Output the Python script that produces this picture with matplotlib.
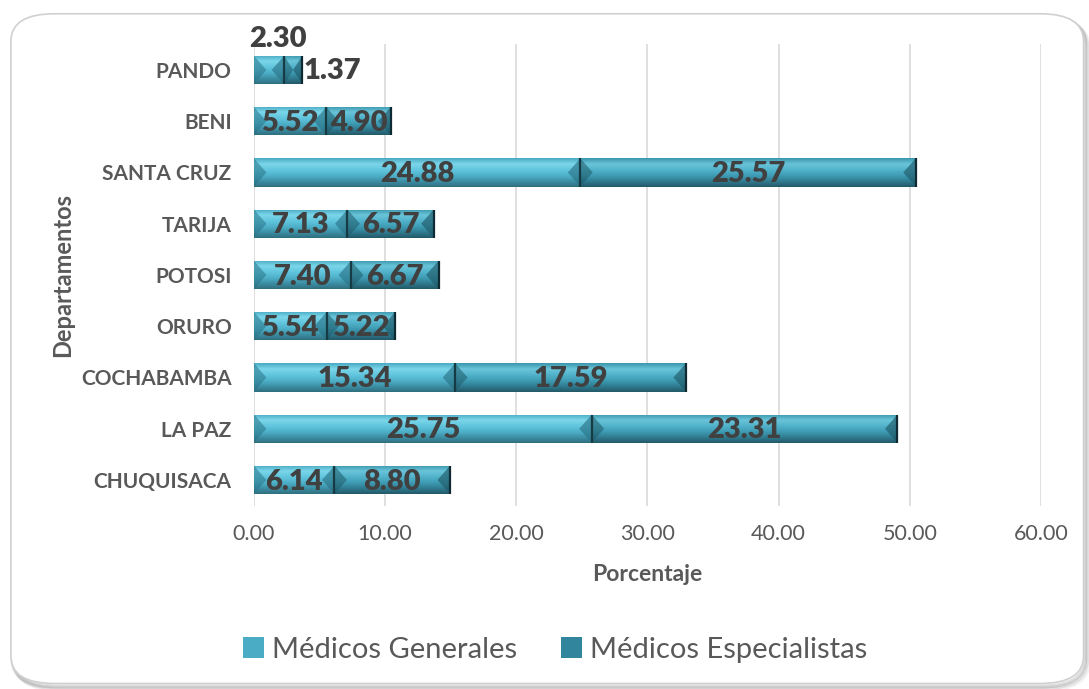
import matplotlib
matplotlib.use("Agg")
import matplotlib.pyplot as plt
import numpy as np
from matplotlib.patches import FancyBboxPatch, Polygon
from matplotlib.colors import LinearSegmentedColormap

# Data
departamentos = ["CHUQUISACA", "LA PAZ", "COCHABAMBA", "ORURO", "POTOSI",
                 "TARIJA", "SANTA CRUZ", "BENI", "PANDO"]
medicos_generales = [6.14, 25.75, 15.34, 5.54, 7.40, 7.13, 24.88, 5.52, 2.30]
medicos_especialistas = [8.80, 23.31, 17.59, 5.22, 6.67, 6.57, 25.57, 4.90, 1.37]
series_names = ["Médicos Generales", "Médicos Especialistas"]
xticks = [0, 10, 20, 30, 40, 50, 60]

FONT = ["Lato", "DejaVu Sans"]
plt.rcParams["font.family"] = FONT

fig = plt.figure(figsize=(10.89, 6.89), dpi=100)

# Rounded outer frame with soft shadow
for i, a in enumerate([0.05, 0.08, 0.12]):
    off = (3 - i) * 0.0015
    fig.patches.append(FancyBboxPatch((0.010 + off, 0.006 - off * 1.5), 0.985, 0.972,
                                      boxstyle="round,pad=0,rounding_size=0.04",
                                      transform=fig.transFigure, facecolor="none",
                                      edgecolor=(0, 0, 0, a), linewidth=3, zorder=-3))
fig.patches.append(FancyBboxPatch((0.010, 0.008), 0.985, 0.972,
                                  boxstyle="round,pad=0,rounding_size=0.04",
                                  transform=fig.transFigure, facecolor="white",
                                  edgecolor="#d0d0d0", linewidth=1.2, zorder=-2))

ax = fig.add_axes([0.2332, 0.2662, 0.7227, 0.6694])
ax.set_facecolor("none")

y = np.arange(len(departamentos))
bh = 0.55

cmap_gen = LinearSegmentedColormap.from_list(
    "gen", ["#2f6f7f", "#3d90a6", "#4fb2ca", "#62c6de", "#7bd6ea", "#4aaac3"])
cmap_esp = LinearSegmentedColormap.from_list(
    "esp", ["#245a68", "#2f7d92", "#3f9db5", "#52b3cb", "#6ac4da", "#3b97ad"])

bars_g = ax.barh(y, medicos_generales, height=bh, color="#4bacc6",
                 edgecolor="none", zorder=3, label=series_names[0])
bars_e = ax.barh(y, medicos_especialistas, left=medicos_generales, height=bh,
                 color="#31859c", edgecolor="none", zorder=3, label=series_names[1])

grad = np.linspace(0, 1, 64).reshape(-1, 1)


def shade(bars, cmap, end_dark, tip_dark):
    for b in bars:
        x0, y0 = b.get_x(), b.get_y()
        w, h = b.get_width(), b.get_height()
        x1, y1 = x0 + w, y0 + h
        im = ax.imshow(grad, cmap=cmap, aspect="auto", origin="lower",
                       extent=(x0, x1, y0, y1), zorder=3.1, interpolation="bilinear")
        im.set_clip_path(b)
        bev = min(0.95, w / 2)
        yc = y0 + h / 2
        ax.add_patch(Polygon([(x0, y0), (x0, y1), (x0 + bev, yc)], closed=True,
                             facecolor=end_dark, alpha=0.55, edgecolor="none", zorder=3.2))
        ax.add_patch(Polygon([(x1, y0), (x1, y1), (x1 - bev, yc)], closed=True,
                             facecolor=end_dark, alpha=0.65, edgecolor="none", zorder=3.2))
        ax.plot([x1, x1], [y0, y1], color=tip_dark, lw=1.6, zorder=3.3,
                solid_capstyle="butt")


shade(bars_g, cmap_gen, "#2a7487", "#163b45")
shade(bars_e, cmap_esp, "#1f5a69", "#0f2a32")

# Value labels
lab_kw = dict(fontsize=21, fontweight="heavy", color="#404040", zorder=5,
              family=FONT)
for i, (g, e) in enumerate(zip(medicos_generales, medicos_especialistas)):
    if departamentos[i] == "PANDO":
        ax.text(g / 2 + 0.7, i + 0.6, f"{g:.2f}", ha="center", va="center", **lab_kw)
        ax.text(g + e + 0.1, i - 0.02, f"{e:.2f}", ha="left", va="center", **lab_kw)
    else:
        ax.text(g / 2, i - 0.03, f"{g:.2f}", ha="center", va="center", **lab_kw)
        ax.text(g + e / 2, i - 0.03, f"{e:.2f}", ha="center", va="center", **lab_kw)

ax.set_xlim(0, 60)
ax.set_ylim(-0.5, len(departamentos) - 0.5)
ax.set_xticks(xticks)
ax.set_xticklabels([f"{v:.2f}" for v in xticks], fontsize=15.5, color="#595959")
ax.set_yticks(y)
ax.set_yticklabels(departamentos, fontsize=15, fontweight="bold", color="#595959")
ax.tick_params(axis="x", length=0, pad=13)
ax.tick_params(axis="y", length=0, pad=16)
ax.grid(axis="x", color="#d9d9d9", linewidth=1.2, zorder=0)
for s in ax.spines.values():
    s.set_visible(False)

ax.set_xlabel("Porcentaje", fontsize=16.5, fontweight="bold", color="#595959", labelpad=15)
ax.set_ylabel("Departamentos", fontsize=17, fontweight="bold", color="#595959", labelpad=5)

leg = fig.legend(handles=[bars_g, bars_e], labels=series_names, loc="center",
                 bbox_to_anchor=(0.51, 0.057), ncol=2, frameon=False,
                 fontsize=21, handlelength=0.7, handleheight=0.7,
                 handletextpad=0.3, columnspacing=1.5, labelcolor="#595959")

fig.savefig("out.png", dpi=100)
